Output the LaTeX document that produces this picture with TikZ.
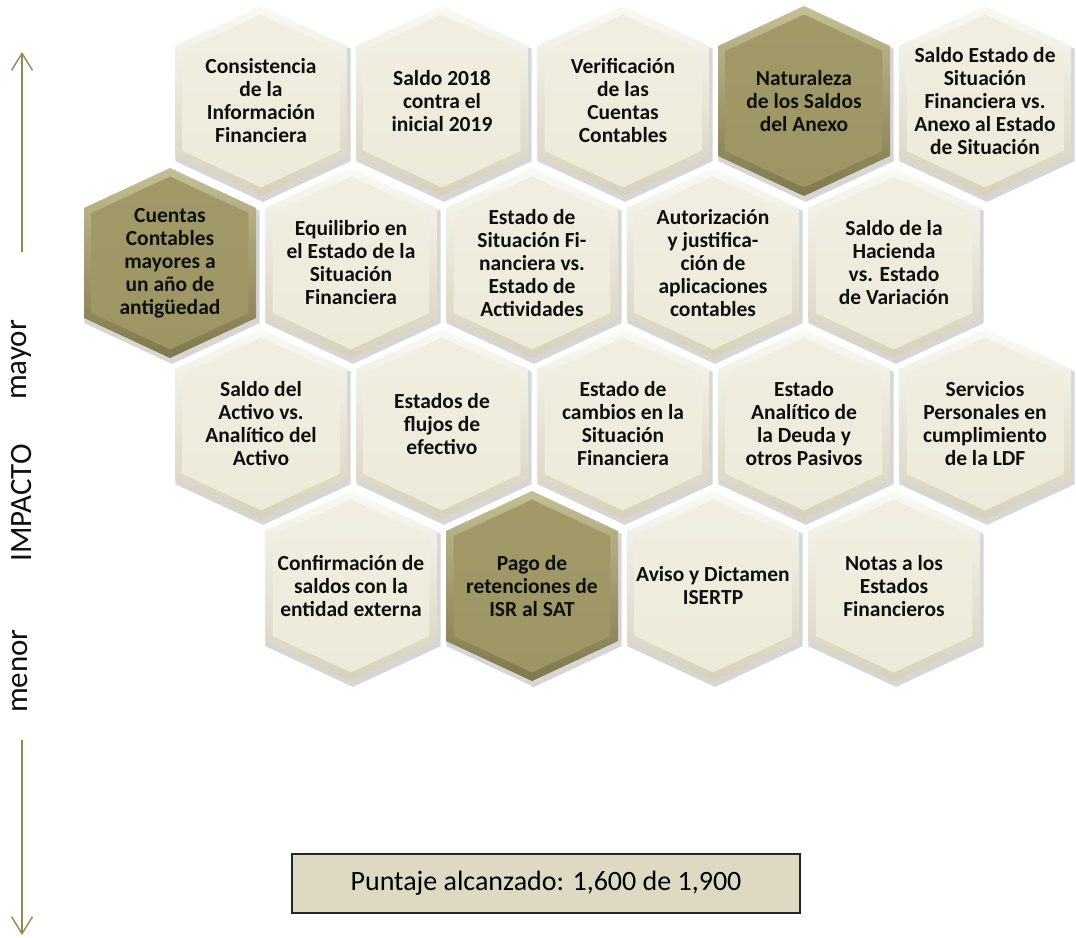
\documentclass[tikz,border=0pt]{standalone}
\usepackage{fontspec}
\setmainfont{Carlito}
\usepackage{tikz}
\usetikzlibrary{arrows.meta, positioning}
\definecolor{myolive}{RGB}{148,138,84}
\definecolor{mytext}{RGB}{15,15,15}
\definecolor{palemid}{RGB}{237,234,218}
\definecolor{palehi}{RGB}{250,249,243}
\definecolor{palelo}{RGB}{214,209,186}
\definecolor{darkmid}{RGB}{158,149,101}
\definecolor{darkhi}{RGB}{198,191,148}
\definecolor{darklo}{RGB}{128,119,76}
\definecolor{scorebg}{RGB}{221,217,195}
\tikzset{
  hexpath/.style={insert path={(0,-95) -- (86,-55) -- (86,55) -- (0,95) -- (-86,55) -- (-86,-55) -- cycle}},
  cellshadow/.style={fill=black, opacity=0.16},
  paleedge/.style={top color=palehi, bottom color=palelo},
  paleface/.style={top color=palemid!70!palehi, bottom color=palemid},
  darkedge/.style={top color=darkhi, bottom color=darklo},
  darkface/.style={top color=darkmid!90!darkhi, bottom color=darkmid},
  celltext/.style={align=center, inner sep=0pt, text=mytext,
    font=\bfseries\fontsize{21.5}{23}\selectfont},
  axisarrow/.style={-{Straight Barb[length=17pt, width=21pt]}, line width=1.4pt, color=myolive},
  axislabel/.style={rotate=90, inner sep=0pt, text=mytext,
    font=\fontsize{31}{36}\selectfont},
  scorebox/.style={rectangle, draw=black!85, fill=scorebg, line width=1.5pt,
    minimum width=508pt, minimum height=59pt, inner sep=0pt,
    font=\fontsize{28}{32}\selectfont}
}
% one hexagon: name, x, y, pale/dark, text
\newcommand{\cell}[5]{%
  \fill[cellshadow, shift={(#2+2,#3+4)}, scale=1.02, hexpath];
  \shade[#4edge, shift={(#2,#3)}, hexpath];
  \shade[#4face, shift={(#2,#3)}, scale=0.91, hexpath];
  \node[celltext] (#1) at (#2,#3) {#5};
}

\begin{document}
\begin{tikzpicture}[x=1pt, y=-1pt]
  \useasboundingbox (0,0) rectangle (1076,937);
  % Row 1
  \cell{consist}{261}{101}{pale}{Consistencia\\de la\\Información\\Financiera}
  \cell{saldo}{442}{101}{pale}{Saldo 2018\\contra el\\inicial 2019}
  \cell{verif}{623}{101}{pale}{Verificación\\de las\\Cuentas\\Contables}
  \cell{natur}{804}{101}{dark}{Naturaleza\\de los Saldos\\del Anexo}
  \cell{anexo}{985}{101}{pale}{Saldo Estado de\\Situación\\Financiera vs.\\Anexo al Estado\\de Situación}
  % Row 2
  \cell{cuentas}{170}{263}{dark}{Cuentas\\Contables\\mayores a\\un año de\\antigüedad}
  \cell{equil}{351}{263}{pale}{Equilibrio en\\el Estado de la\\Situación\\Financiera}
  \cell{activ}{532}{263}{pale}{Estado de\\Situación Fi-\\nanciera vs.\\Estado de\\Actividades}
  \cell{autor}{713}{263}{pale}{Autorización\\y justifica-\\ción de\\aplicaciones\\contables}
  \cell{hacienda}{894}{263}{pale}{Saldo de la\\Hacienda\\vs. Estado\\de Variación}
  % Row 3
  \cell{activo}{261}{424}{pale}{Saldo del\\Activo vs.\\Analítico del\\Activo}
  \cell{flujos}{442}{424}{pale}{Estados de\\flujos de\\efectivo}
  \cell{cambios}{623}{424}{pale}{Estado de\\cambios en la\\Situación\\Financiera}
  \cell{deuda}{804}{424}{pale}{Estado\\Analítico de\\la Deuda y\\otros Pasivos}
  \cell{ldf}{985}{424}{pale}{Servicios\\Personales en\\cumplimiento\\de la LDF}
  % Row 4
  \cell{confirm}{351}{586}{pale}{Confirmación de\\saldos con la\\entidad externa}
  \cell{isr}{532}{586}{dark}{Pago de\\retenciones de\\ISR al SAT}
  \cell{aviso}{713}{586}{pale}{Aviso y Dictamen\\ISERTP}
  \cell{notas}{894}{586}{pale}{Notas a los\\Estados\\Financieros}
  % Impact axis
  \coordinate (upfoot) at (22,252);
  \coordinate (uptip) at (22,52);
  \coordinate (downfoot) at (22,740);
  \coordinate (downtip) at (22,935);
  \draw[axisarrow] (upfoot) -- (uptip);
  \draw[axisarrow] (downfoot) -- (downtip);
  \node[axislabel] (mayor) at (21,360) {mayor};
  \node[axislabel] (impacto) at (22,503) {IMPACTO};
  \node[axislabel] (menor) at (20,671) {menor};
  % Score
  \node[scorebox] (score) at (546,883.5) {Puntaje alcanzado: 1,600 de 1,900};
\end{tikzpicture}
\end{document}
